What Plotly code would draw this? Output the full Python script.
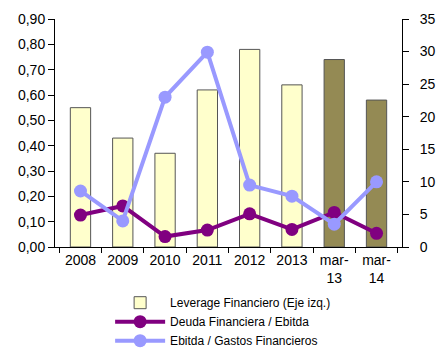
import plotly.graph_objects as go

categories = ["2008", "2009", "2010", "2011", "2012", "2013", "mar-<br>13", "mar-<br>14"]
leverage = [0.55, 0.43, 0.37, 0.62, 0.78, 0.64, 0.74, 0.58]
deuda_ebitda = [4.9, 6.3, 1.6, 2.6, 5.1, 2.7, 5.3, 2.1]
ebitda_gastos = [8.6, 4.0, 23.0, 29.9, 9.5, 7.8, 3.5, 10.0]
bar_colors = ["#FFFFCC"] * 6 + ["#948A54"] * 2

fig = go.Figure()
fig.add_trace(go.Bar(
    x=categories, y=leverage, name="Leverage Financiero (Eje izq.)",
    marker=dict(color=bar_colors, line=dict(color="#555555", width=1)),
))
fig.add_trace(go.Scatter(
    x=categories, y=deuda_ebitda, name="Deuda Financiera / Ebitda", yaxis="y2",
    mode="lines+markers", line=dict(color="#800080", width=4),
    marker=dict(color="#800080", size=13),
))
fig.add_trace(go.Scatter(
    x=categories, y=ebitda_gastos, name="Ebitda / Gastos Financieros", yaxis="y2",
    mode="lines+markers", line=dict(color="#9999FF", width=4),
    marker=dict(color="#9999FF", size=13),
))

fig.update_layout(
    width=437, height=358,
    margin=dict(l=55, r=35, t=19, b=111, autoexpand=False),
    paper_bgcolor="white", plot_bgcolor="white",
    font=dict(family="Liberation Sans", size=14, color="black"),
    separators=",.",
    bargap=0.52,
    showlegend=True,
    legend=dict(
        xref="container", yref="container",
        x=0.252, xanchor="left", y=0.195, yanchor="top",
        font=dict(size=12), tracegroupgap=0, itemwidth=50,
        bgcolor="rgba(0,0,0,0)",
    ),
    xaxis=dict(
        type="category", showline=True, linecolor="black", linewidth=1,
        ticks="outside", tickson="boundaries", ticklen=5, tickcolor="black",
        showgrid=False, automargin=False,
    ),
    yaxis=dict(
        range=[0, 0.9], dtick=0.1, tickformat=".2f", showline=True,
        linecolor="black", linewidth=1, ticks="outside", ticklen=6,
        tickcolor="black", showgrid=False, zeroline=False, automargin=False,
    ),
    yaxis2=dict(
        range=[0, 35], dtick=5, overlaying="y", side="right", showline=True,
        linecolor="black", linewidth=1, ticks="outside", ticklen=6,
        tickcolor="black", showgrid=False, zeroline=False, ticklabelstandoff=8,
        automargin=False,
    ),
)

fig.write_html("out.html")
